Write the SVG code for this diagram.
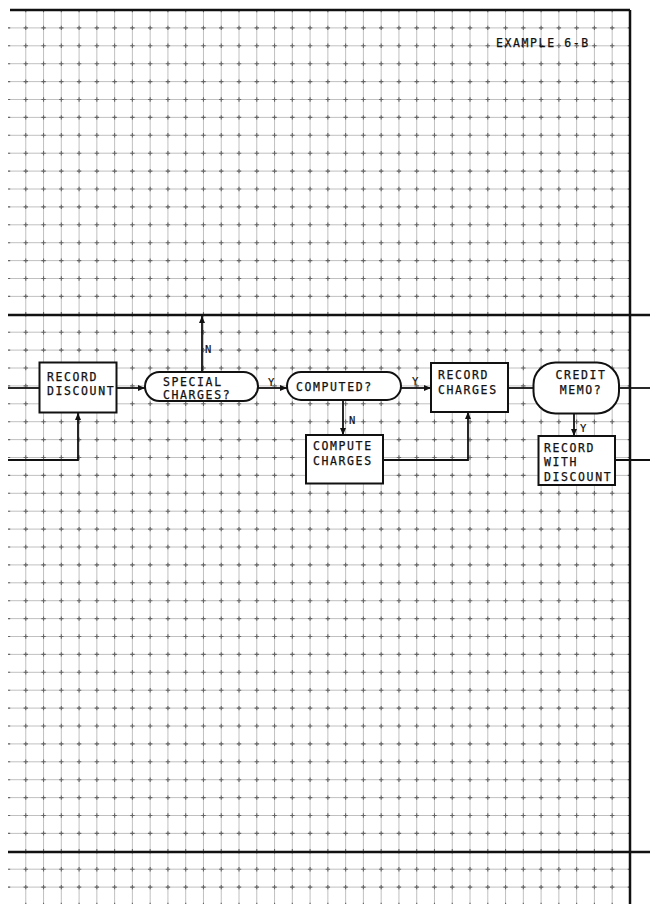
<svg xmlns="http://www.w3.org/2000/svg" width="650" height="904" viewBox="0 0 650 904">
<defs>
<path id="hl" d="M8,27.9H630M8,45.8H630M8,63.7H630M8,81.6H630M8,99.5H630M8,117.4H630M8,135.3H630M8,153.2H630M8,171.1H630M8,189H630M8,206.9H630M8,224.8H630M8,242.7H630M8,260.6H630M8,278.5H630M8,296.4H630M8,332.2H630M8,350.1H630M8,368H630M8,385.9H630M8,403.8H630M8,421.7H630M8,439.6H630M8,457.5H630M8,475.4H630M8,493.3H630M8,511.2H630M8,529.1H630M8,547H630M8,564.9H630M8,582.8H630M8,600.7H630M8,618.6H630M8,636.5H630M8,654.4H630M8,672.3H630M8,690.2H630M8,708.1H630M8,726H630M8,743.9H630M8,761.8H630M8,779.7H630M8,797.6H630M8,815.5H630M8,833.4H630M8,869.2H630M8,887.1H630"/>
<path id="vl" d="M25.77,10V905M43.54,10V905M61.31,10V905M79.08,10V905M96.85,10V905M114.62,10V905M132.39,10V905M150.16,10V905M167.93,10V905M185.7,10V905M203.47,10V905M221.24,10V905M239.01,10V905M256.78,10V905M274.55,10V905M292.32,10V905M310.09,10V905M327.86,10V905M345.63,10V905M363.4,10V905M381.17,10V905M398.94,10V905M416.71,10V905M434.48,10V905M452.25,10V905M470.02,10V905M487.79,10V905M505.56,10V905M523.33,10V905M541.1,10V905M558.87,10V905M576.64,10V905M594.41,10V905M612.18,10V905"/>
<marker id="arr" markerUnits="userSpaceOnUse" markerWidth="8" markerHeight="8" refX="7" refY="4" orient="auto">
<path d="M0,1 L7,4 L0,7 z" fill="#111"/>
</marker>
</defs>
<style>
.gl{stroke:#b0b0b0;stroke-width:0.8;fill:none}
.gch{stroke:#666;stroke-width:1.1;fill:none;stroke-dasharray:4.4 13.37;stroke-dashoffset:2.2}
.gcv{stroke:#666;stroke-width:1.1;fill:none;stroke-dasharray:4.4 13.5;stroke-dashoffset:2.2}
.frame{stroke:#111;stroke-width:2.5;fill:none}
.box{fill:#fff;stroke:#111;stroke-width:2}
.conn{stroke:#111;stroke-width:1.8;fill:none}
.t{font-family:"DejaVu Sans Mono","Liberation Mono",monospace;font-size:11.5px;letter-spacing:1.6px;fill:#111;stroke:#111;stroke-width:0.25}
.lbl{font-family:"DejaVu Sans Mono","Liberation Mono",monospace;font-size:10.5px;fill:#111;stroke:#111;stroke-width:0.2}
</style>
<rect width="650" height="904" fill="#fff"/>
<g id="grid">
<use href="#hl" class="gl"/>
<use href="#vl" class="gl"/>
<use href="#hl" class="gch"/>
<use href="#vl" class="gcv"/>
</g>
<g id="frame">
<path class="frame" d="M10,10 H630 M630,10 V904 M8,315 H650 M8,852 H650"/>
<text class="t" x="496" y="47">EXAMPLE 6-B</text>
</g>
<g id="connectors">
<path class="conn" d="M8,388 H39"/>
<path class="conn" d="M8,460 H78 V413" marker-end="url(#arr)"/>
<path class="conn" d="M117,388 H145" marker-end="url(#arr)"/>
<path class="conn" d="M202,372 V316" marker-end="url(#arr)"/>
<path class="conn" d="M258,388 H287" marker-end="url(#arr)"/>
<path class="conn" d="M401,388 H431" marker-end="url(#arr)"/>
<path class="conn" d="M343,400 V435" marker-end="url(#arr)"/>
<path class="conn" d="M383,460 H468 V412" marker-end="url(#arr)"/>
<path class="conn" d="M508,388 H533"/>
<path class="conn" d="M619,388 H650"/>
<path class="conn" d="M574,413 V436" marker-end="url(#arr)"/>
<path class="conn" d="M615,460 H650"/>
<text class="lbl" x="205" y="353">N</text>
<text class="lbl" x="268" y="386">Y</text>
<text class="lbl" x="412" y="385">Y</text>
<text class="lbl" x="349" y="424">N</text>
<text class="lbl" x="580" y="432">Y</text>
</g>
<g id="record-discount">
<rect class="box" x="39.5" y="362.5" width="77" height="50"/>
<text class="t" x="47" y="381">RECORD</text>
<text class="t" x="47" y="395">DISCOUNT</text>
</g>
<g id="special-charges">
<rect class="box" x="145" y="372" width="113" height="29" rx="14.5"/>
<text class="t" x="163" y="386">SPECIAL</text>
<text class="t" x="163" y="399">CHARGES?</text>
</g>
<g id="computed">
<rect class="box" x="287" y="372" width="114" height="28" rx="14"/>
<text class="t" x="296" y="391">COMPUTED?</text>
</g>
<g id="compute-charges">
<rect class="box" x="306" y="435" width="77" height="48.5"/>
<text class="t" x="313" y="450">COMPUTE</text>
<text class="t" x="313" y="465">CHARGES</text>
</g>
<g id="record-charges">
<rect class="box" x="431" y="363" width="77" height="49"/>
<text class="t" x="438" y="379">RECORD</text>
<text class="t" x="438" y="394">CHARGES</text>
</g>
<g id="credit-memo">
<rect class="box" x="533.5" y="362.5" width="85.5" height="51" rx="22"/>
<text class="t" x="581" y="379" text-anchor="middle">CREDIT</text>
<text class="t" x="581" y="394" text-anchor="middle">MEMO?</text>
</g>
<g id="record-with-discount">
<rect class="box" x="538.5" y="436" width="76.5" height="49"/>
<text class="t" x="544" y="452">RECORD</text>
<text class="t" x="544" y="466">WITH</text>
<text class="t" x="544" y="481">DISCOUNT</text>
</g>
</svg>
